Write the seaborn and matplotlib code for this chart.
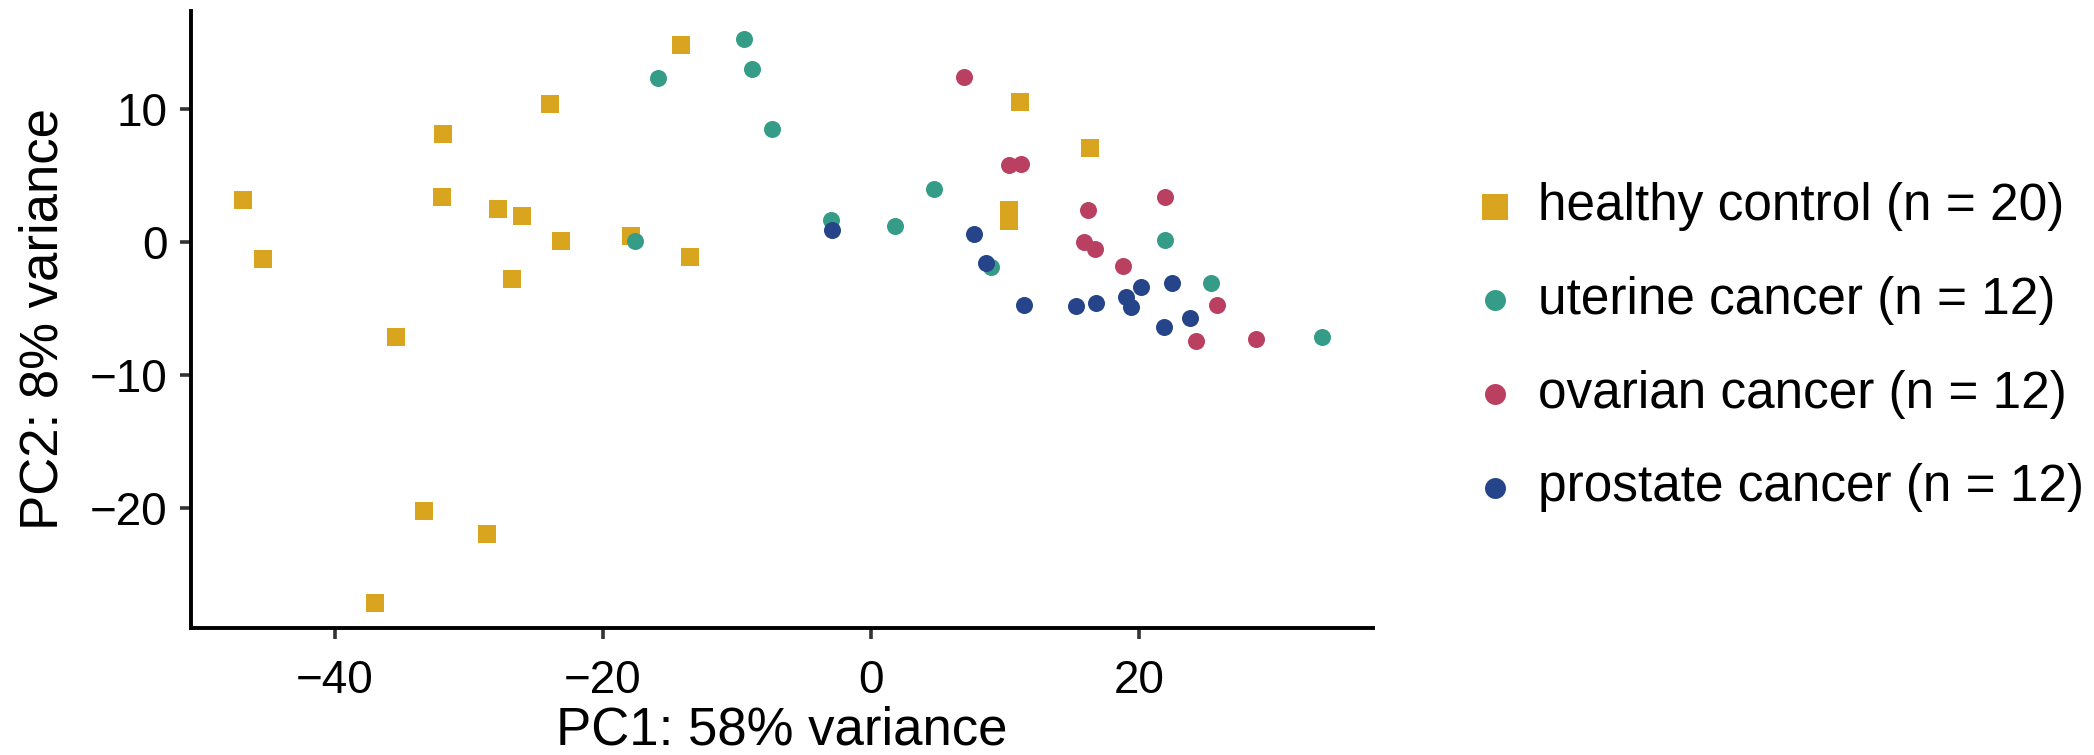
import pandas as pd
import seaborn as sns
import matplotlib
matplotlib.use('Agg')
import matplotlib.pyplot as plt

# PCA coordinates
healthy_pc1 = [-46.8, -45.3, -31.9, -32.0, -27.8, -26.0, -23.9, -23.1, -26.8, -17.9,
               -14.2, -13.5, -35.4, -33.3, -28.6, -37.0, 11.1, 16.3, 10.3, 10.3]
healthy_pc2 = [3.2, -1.3, 8.1, 3.4, 2.5, 2.0, 10.4, 0.1, -2.8, 0.5,
               14.8, -1.1, -7.1, -20.2, -21.9, -27.1, 10.5, 7.1, 2.4, 1.6]

uterine_pc1 = [-15.9, -9.5, -8.9, -7.4, -17.6, -3.0, 1.8, 4.7, 8.9, 21.9, 25.3, 33.6]
uterine_pc2 = [12.3, 15.3, 13.0, 8.5, 0.1, 1.7, 1.2, 4.0, -1.9, 0.2, -3.1, -7.1]

ovarian_pc1 = [6.9, 10.3, 11.2, 16.2, 21.9, 15.9, 16.7, 18.8, 25.8, 24.2, 28.7]
ovarian_pc2 = [12.4, 5.8, 5.9, 2.4, 3.4, 0.0, -0.5, -1.8, -4.7, -7.4, -7.3]

prostate_pc1 = [7.7, 8.6, 11.4, 15.3, 16.8, 19.0, 19.4, 20.1, 22.4, 23.8, 21.8, -2.9]
prostate_pc2 = [0.6, -1.6, -4.7, -4.8, -4.6, -4.1, -4.9, -3.4, -3.1, -5.7, -6.4, 0.9]

groups = ["healthy control (n = 20)", "uterine cancer (n = 12)",
          "ovarian cancer (n = 12)", "prostate cancer (n = 12)"]
colors = ["#DAA51E", "#359D87", "#BA4062", "#25448A"]

frames = []
for g, xs, ys in zip(groups,
                     [healthy_pc1, uterine_pc1, ovarian_pc1, prostate_pc1],
                     [healthy_pc2, uterine_pc2, ovarian_pc2, prostate_pc2]):
    frames.append(pd.DataFrame({"PC1": xs, "PC2": ys, "group": g}))
df = pd.concat(frames, ignore_index=True)

sns.set_theme(style="ticks")
plt.rcParams['font.family'] = ['Liberation Sans', 'DejaVu Sans']
plt.rcParams['text.color'] = 'black'

fig = plt.figure(figsize=(20.94, 7.55), dpi=100)
ax = fig.add_axes([0.0912, 0.168, 0.5644, 0.818])

markers = {groups[0]: "s", groups[1]: "o", groups[2]: "o", groups[3]: "o"}
sizes = {groups[0]: 170, groups[1]: 150, groups[2]: 150, groups[3]: 150}
for g, c in zip(groups, colors):
    sub = df[df["group"] == g]
    sns.scatterplot(data=sub, x="PC1", y="PC2", color=c, marker=markers[g],
                    s=sizes[g], linewidth=0, ax=ax, label=g, zorder=3)

ax.set_xlim(-50.7, 37.4)
ax.set_ylim(-29.0, 17.4)
ax.set_xticks([-40, -20, 0, 20])
ax.set_yticks([-20, -10, 0, 10])
ax.set_xlabel("PC1: 58% variance", fontsize=38, labelpad=2, color="black")
ax.set_ylabel("PC2: 8% variance", fontsize=38, labelpad=15, color="black")
ax.tick_params(labelsize=33, length=8, width=2.6, color="#333333",
               labelcolor="black")
ax.tick_params(axis="x", pad=14)
ax.tick_params(axis="y", pad=9)
for side in ["top", "right"]:
    ax.spines[side].set_visible(False)
for side in ["left", "bottom"]:
    ax.spines[side].set_linewidth(2.8)
    ax.spines[side].set_color("black")

handles, labels = ax.get_legend_handles_labels()
ax.get_legend().remove()
leg = fig.legend(handles, labels, loc="center left", bbox_to_anchor=(0.7016, 0.540),
                 frameon=False, fontsize=37, labelspacing=0.87, handlelength=1.0,
                 handletextpad=0.34, borderpad=0, borderaxespad=0)
leg_sizes = [350, 228, 228, 228]
for h, sz in zip(leg.legend_handles, leg_sizes):
    h.set_sizes([sz])
for t in leg.get_texts():
    t.set_color("black")

fig.savefig("out.png", dpi=100)
